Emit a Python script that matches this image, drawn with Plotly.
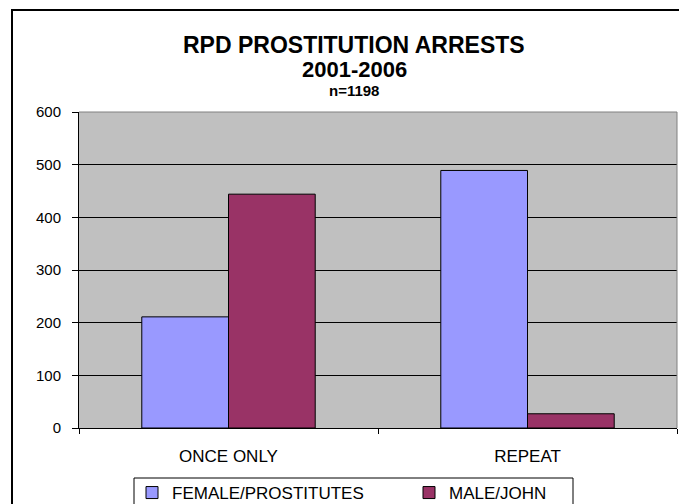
import plotly.graph_objects as go

categories = ["ONCE ONLY", "REPEAT"]
female_values = [211, 489]
male_values = [444, 27]
series_names = ["FEMALE/PROSTITUTES", "MALE/JOHN"]
y_ticks = [0, 100, 200, 300, 400, 500, 600]

OFF = 8  # default page body margin
W, H = 687, 504
L, R, T, B = 79 - OFF, 677 - OFF, 112 - OFF, 428 - OFF

def px(x):
    return (x - OFF - L) / (R - L)

def py(y):
    return (B - (y - OFF)) / (B - T)

FONT = "Liberation Sans, Arial, sans-serif"

fig = go.Figure()
fig.add_trace(go.Bar(x=categories, y=female_values, name=series_names[0],
                     marker=dict(color="#9999FF", line=dict(color="black", width=1))))
fig.add_trace(go.Bar(x=categories, y=male_values, name=series_names[1],
                     marker=dict(color="#993366", line=dict(color="black", width=1))))

fig.update_layout(
    width=W, height=H,
    margin=dict(l=L, r=W - R, t=T, b=H - B, autoexpand=False),
    paper_bgcolor="white",
    plot_bgcolor="#C0C0C0",
    barmode="group", bargap=0.42, bargroupgap=0,
    font=dict(family=FONT, color="black"),
    showlegend=True,
    legend=dict(orientation="h", x=px(132), y=py(475), xanchor="left", yanchor="top",
                font=dict(size=17, family=FONT, color="black"),
                bgcolor="rgba(0,0,0,0)", borderwidth=0, entrywidth=232, entrywidthmode="pixels",
                itemwidth=30),
)
fig.update_yaxes(range=[0, 600], tickvals=y_ticks, showgrid=True, gridcolor="black", gridwidth=1,
                 zeroline=False, showline=True, linecolor="black", linewidth=1,
                 ticks="outside", ticklen=6, tickcolor="black",
                 tickfont=dict(size=15, family=FONT, color="black"), ticklabelstandoff=8)
fig.update_xaxes(showline=True, linecolor="black", linewidth=1, ticks="outside", ticklen=5,
                 tickcolor="black", tickson="boundaries", showgrid=False,
                 tickfont=dict(size=17, family=FONT, color="black"), ticklabelstandoff=13)

# chart frame, plot-area border, legend box
fig.add_shape(type="rect", xref="paper", yref="paper", x0=px(12), x1=px(700), y0=py(520), y1=py(10),
              line=dict(color="black", width=2), layer="below")
fig.add_shape(type="line", xref="paper", yref="paper", x0=1, x1=1, y0=0, y1=1,
              line=dict(color="#808080", width=1))
fig.add_shape(type="line", xref="paper", yref="paper", x0=0, x1=1, y0=1, y1=1,
              line=dict(color="#808080", width=1))
fig.add_shape(type="rect", xref="paper", yref="paper", x0=px(134), x1=px(573), y0=py(520), y1=py(478),
              line=dict(color="black", width=1))

title_lines = [("<b>RPD PROSTITUTION ARRESTS</b>", 23, 45),
               ("<b>2001-2006</b>", 22, 70),
               ("<b>n=1198</b>", 15, 90)]
for text, size, y in title_lines:
    fig.add_annotation(text=text, xref="paper", yref="paper", x=px(354), y=py(y),
                       xanchor="center", yanchor="middle", showarrow=False,
                       font=dict(size=size, family=FONT, color="black"))

fig.write_html("out.html")
